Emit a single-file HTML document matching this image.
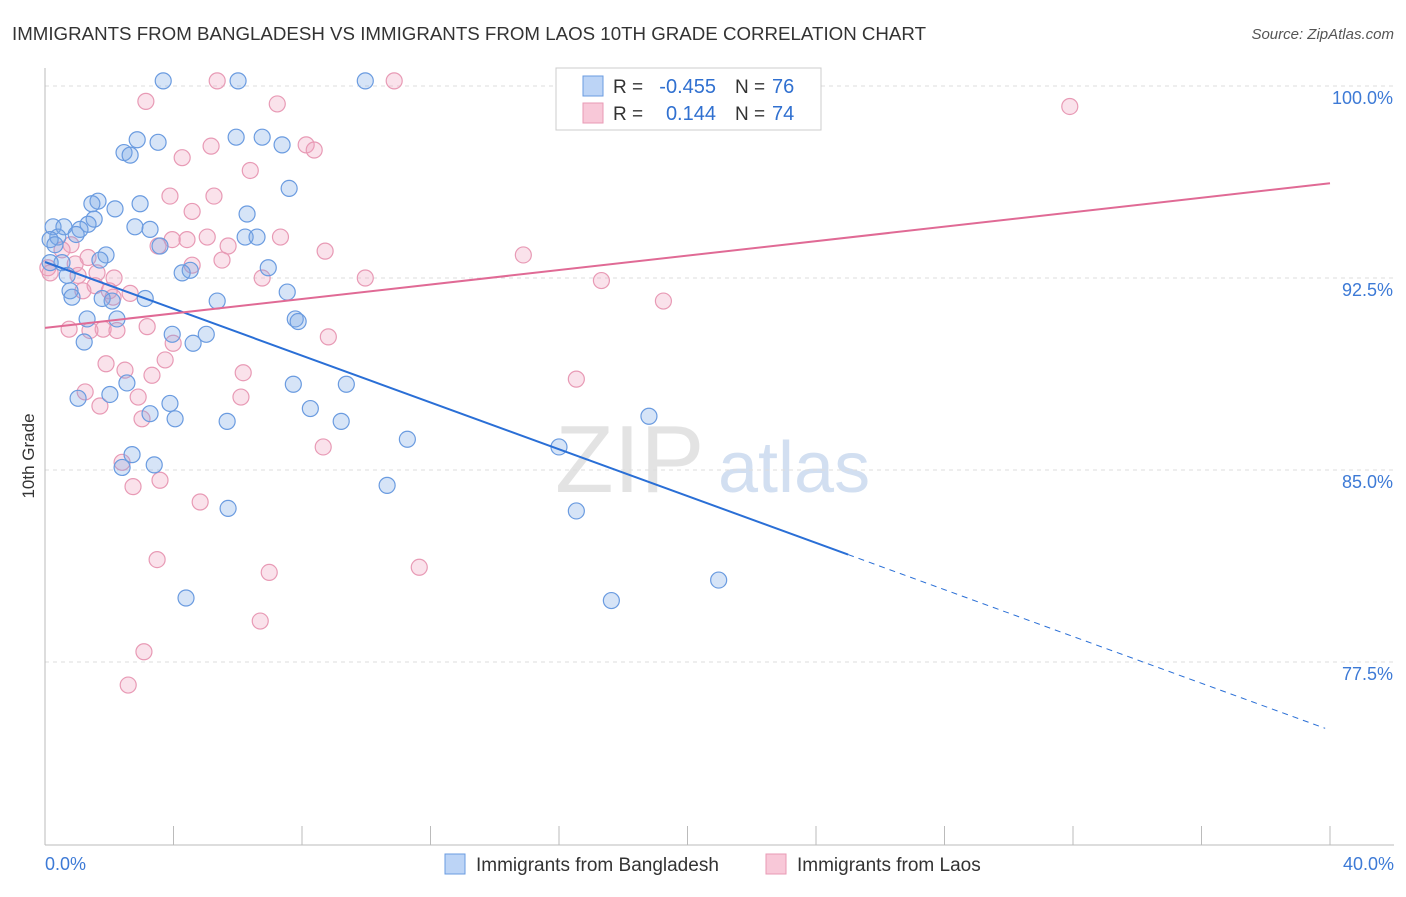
<!DOCTYPE html>
<html><head><meta charset="utf-8"><style>
body{margin:0;background:#fff;font-family:"Liberation Sans",sans-serif}
svg text{font-family:"Liberation Sans",sans-serif}
</style></head><body>
<svg id="chart" width="1406" height="892" xmlns="http://www.w3.org/2000/svg">
<text x="12" y="40" font-size="18" fill="#333" textLength="914" lengthAdjust="spacingAndGlyphs">IMMIGRANTS FROM BANGLADESH VS IMMIGRANTS FROM LAOS 10TH GRADE CORRELATION CHART</text>
<text x="1394" y="39" font-size="15" fill="#555" text-anchor="end" font-style="italic">Source: ZipAtlas.com</text>
<g>
<text x="555" y="492" font-size="96" fill="#ddd" font-family="Liberation Serif" opacity="0.8">ZIP</text>
<text x="718" y="492" font-size="72" fill="#c8d8ee" opacity="0.8">atlas</text>
</g>
<g id="grid"></g><g id="axes"></g><g id="marks"></g>
<text transform="translate(34,456) rotate(-90)" font-size="17" fill="#333" text-anchor="middle">10th Grade</text>
<g>
<rect x="556" y="68" width="265" height="62" fill="#fff" stroke="#ccc"/>
<rect x="583" y="76" width="20" height="20" fill="#bcd4f6" stroke="#6a9be0"/>
<rect x="583" y="103" width="20" height="20" fill="#f8c8d8" stroke="#e89ab5"/>
<text x="613" y="93" font-size="19" fill="#333">R =</text>
<text x="716" y="93" font-size="20" fill="#3070d0" text-anchor="end">-0.455</text>
<text x="735" y="93" font-size="19" fill="#333">N =</text>
<text x="772" y="93" font-size="20" fill="#3070d0">76</text>
<text x="613" y="120" font-size="19" fill="#333">R =</text>
<text x="716" y="120" font-size="20" fill="#3070d0" text-anchor="end">0.144</text>
<text x="735" y="120" font-size="19" fill="#333">N =</text>
<text x="772" y="120" font-size="20" fill="#3070d0">74</text>
</g>
<g>
<rect x="445" y="854" width="20" height="20" fill="#bcd4f6" stroke="#6a9be0"/>
<text x="476" y="871" font-size="19" fill="#333">Immigrants from Bangladesh</text>
<rect x="766" y="854" width="20" height="20" fill="#f8c8d8" stroke="#e89ab5"/>
<text x="797" y="871" font-size="19" fill="#333">Immigrants from Laos</text>
</g>
</svg>
<script>
const yTicks=[100,92.5,85,77.5];
const yTickLabels=["100.0%","92.5%","85.0%","77.5%"];
const xTickLabels=["0.0%","40.0%"];
const blueX=[3.68,6.01,9.97,2.87,3.52,2.46,2.65,5.95,6.76,7.38,7.60,1.65,1.46,2.18,2.96,1.53,1.34,0.25,0.59,1.09,0.97,2.80,3.27,6.29,6.23,6.60,0.40,0.16,0.31,3.58,1.90,1.71,0.53,0.16,0.69,4.52,4.27,6.95,0.78,0.84,3.12,1.78,2.09,5.36,7.54,1.31,2.24,7.79,7.88,3.96,5.02,1.22,4.61,2.55,7.73,9.38,1.03,2.02,3.89,3.27,8.26,4.05,5.67,9.22,11.28,2.71,3.40,2.40,10.65,16.0,18.8,5.70,16.54,20.97,17.63,4.39];
const blueY=[100.2,100.2,100.2,97.9,97.8,97.4,97.3,98.0,98.0,97.7,96.0,95.5,95.4,95.2,95.4,94.8,94.6,94.5,94.5,94.4,94.2,94.5,94.4,95.0,94.1,94.1,94.1,94.0,93.8,93.75,93.4,93.2,93.1,93.1,92.6,92.8,92.7,92.9,92.0,91.75,91.7,91.7,91.6,91.6,91.95,90.9,90.9,90.9,90.8,90.3,90.3,90.0,89.95,88.4,88.35,88.35,87.8,87.95,87.6,87.2,87.4,87.0,86.9,86.9,86.2,85.6,85.2,85.1,84.4,85.9,87.1,83.5,83.4,80.7,79.9,80.0];
const pinkX=[5.36,10.87,3.14,7.23,31.9,5.17,8.13,8.38,4.27,6.39,3.89,5.26,4.58,3.96,4.42,5.05,5.70,7.33,3.52,8.72,14.89,5.51,4.58,6.76,9.97,17.32,0.81,0.53,1.34,0.94,0.09,0.16,1.03,1.62,2.15,1.56,2.00,1.18,2.12,2.65,19.25,0.75,1.81,2.24,3.18,1.40,8.82,3.99,3.74,1.90,2.49,3.33,6.17,16.54,1.25,2.90,1.71,6.10,3.02,8.66,2.40,3.58,2.74,4.83,3.49,6.98,11.65,6.70,3.08,2.59];
const pinkY=[100.2,100.2,99.4,99.3,99.2,97.65,97.7,97.5,97.2,96.7,95.7,95.7,95.1,94.0,94.0,94.1,93.75,94.1,93.75,93.55,93.4,93.2,93.0,92.5,92.5,92.4,93.8,93.6,93.3,93.05,92.9,92.7,92.6,92.7,92.5,92.2,92.0,92.0,91.75,91.9,91.6,90.5,90.5,90.45,90.6,90.45,90.2,89.95,89.3,89.15,88.9,88.7,88.8,88.55,88.05,87.85,87.5,87.85,87.0,85.9,85.3,84.6,84.35,83.75,81.5,81.0,81.2,79.1,77.9,76.6];
const blueTrend=[93.125,74.84];
const pinkTrend=[90.55,96.2];
const NS="http://www.w3.org/2000/svg";
const X0=45,X1=1330,Y100=86,PXPER=25.6;
const sx=v=>X0+(v/40)*(X1-X0);
const sy=v=>Y100+(100-v)*PXPER;
function mk(tag,attrs,parent){const e=document.createElementNS(NS,tag);for(const k in attrs)e.setAttribute(k,attrs[k]);document.getElementById(parent).appendChild(e);return e;}
yTicks.forEach((t,i)=>{
 const l=mk('line',{x1:45,x2:1394,y1:sy(t),y2:sy(t),stroke:'#ddd','stroke-dasharray':'4,4'},'grid');
 
 
 const tx=mk('text',{x:1393,y:sy(t)+18,'font-size':18,fill:'#3d7ad6','text-anchor':'end'},'grid');
 tx.textContent=yTickLabels[i];
 
 
});
const ax=mk('line',{x1:45,x2:45,y1:68,y2:845,stroke:'#bbb'},'axes');


const bx=mk('line',{x1:45,x2:1394,y1:845,y2:845,stroke:'#bbb'},'axes');


for(let v=4;v<=40;v+=4){
 const t=mk('line',{x1:sx(v),x2:sx(v),y1:826,y2:845,stroke:'#bbb'},'axes');
 
 
}
[[0,'start',45],[40,'end',1394]].forEach((p,i)=>{
 const t=mk('text',{x:p[2],y:870,'font-size':18,fill:'#3d7ad6','text-anchor':p[1]},'axes');
 t.textContent=xTickLabels[i];
 
 
});
function dots(xs,ys,fill,stroke,name){
 xs.forEach((x,i)=>{
  const c=mk('circle',{cx:sx(x),cy:sy(ys[i]),r:8,fill:fill,stroke:stroke,'stroke-width':1.2},'marks');
  
  
 });
}
dots(pinkX,pinkY,'rgba(240,160,190,0.3)','#e89ab5','laos-point');
dots(blueX,blueY,'rgba(120,165,230,0.3)','#6a9be0','bangladesh-point');
const bAt=x=>blueTrend[0]+(blueTrend[1]-blueTrend[0])*x/40;
const l1=mk('line',{x1:sx(0),y1:sy(bAt(0)),x2:sx(25),y2:sy(bAt(25)),stroke:'#2a6fd6','stroke-width':2},'marks');


const l2=mk('line',{x1:sx(25),y1:sy(bAt(25)),x2:sx(39.85),y2:sy(bAt(39.85)),stroke:'#2a6fd6','stroke-width':1,'stroke-dasharray':'6,5'},'marks');


const l3=mk('line',{x1:sx(0),y1:sy(pinkTrend[0]),x2:sx(40),y2:sy(pinkTrend[1]),stroke:'#e06a95','stroke-width':2},'marks');


</script>
</body></html>
